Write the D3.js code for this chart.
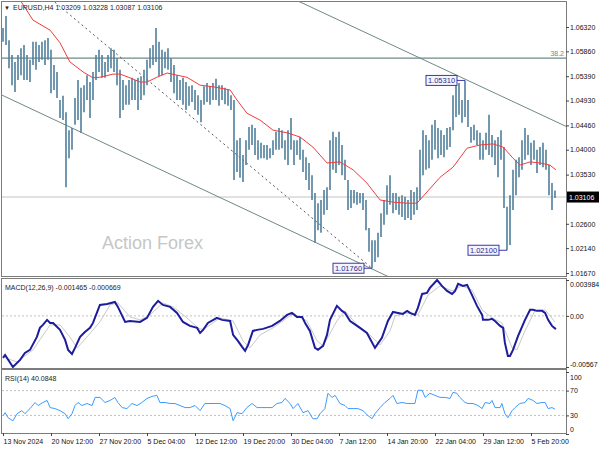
<!DOCTYPE html>
<html><head><meta charset="utf-8">
<script src="https://cdn.jsdelivr.net/npm/d3@7"></script>
<style>
html,body{margin:0;padding:0;background:#fff;}
svg{display:block;font-family:"Liberation Sans",Arial,sans-serif;}
</style></head><body>
<svg id="c" width="600" height="450"></svg>
<script>
// ---------------- DATA ----------------
const symbol = "EURUSD,H4";
const lastOHLC = [1.03209, 1.03228, 1.03087, 1.03106];
const timeLabels = ["13 Nov 2024","20 Nov 12:00","27 Nov 20:00","5 Dec 04:00","12 Dec 12:00","19 Dec 20:00","30 Dec 04:00","7 Jan 12:00","14 Jan 20:00","22 Jan 04:00","29 Jan 12:00","5 Feb 20:00"];
const timeTickBars = [0,16,32,48,64,80,96,112,128,144,160,176];
const priceTicks = [1.0632,1.0586,1.0539,1.0493,1.0446,1.0400,1.0353,1.0260,1.0214,1.0167];
const barHigh = [1.0630,1.0653,1.0607,1.0579,1.0566,1.0579,1.0592,1.0598,1.0579,1.0570,
1.0604,1.0604,1.0598,1.0604,1.0607,1.0611,1.0589,1.0560,1.0547,1.0494,
1.0502,1.0471,1.0437,1.0441,1.0498,1.0532,1.0517,1.0522,1.0541,1.0528,
1.0547,1.0579,1.0589,1.0579,1.0566,1.0579,1.0592,1.0589,1.0573,1.0551,
1.0532,1.0522,1.0532,1.0536,1.0532,1.0536,1.0539,1.0551,1.0570,1.0592,
1.0598,1.0630,1.0604,1.0589,1.0585,1.0592,1.0573,1.0560,1.0541,1.0532,
1.0536,1.0528,1.0520,1.0522,1.0513,1.0503,1.0494,1.0520,1.0526,1.0520,
1.0526,1.0534,1.0522,1.0522,1.0517,1.0513,1.0503,1.0494,1.0418,1.0422,
1.0390,1.0418,1.0443,1.0447,1.0441,1.0418,1.0413,1.0409,1.0409,1.0403,
1.0418,1.0434,1.0441,1.0437,1.0418,1.0437,1.0460,1.0418,1.0418,1.0424,
1.0400,1.0386,1.0375,1.0352,1.0318,1.0299,1.0305,1.0324,1.0329,1.0418,
1.0434,1.0424,1.0434,1.0409,1.0381,1.0343,1.0324,1.0324,1.0320,1.0318,
1.0318,1.0305,1.0252,1.0229,1.0229,1.0243,1.0280,1.0305,1.0333,1.0352,
1.0318,1.0318,1.0311,1.0314,1.0311,1.0305,1.0324,1.0320,1.0329,1.0400,
1.0437,1.0428,1.0418,1.0447,1.0456,1.0441,1.0437,1.0428,1.0441,1.0443,
1.0503,1.0522,1.0526,1.0494,1.0531,1.0494,1.0443,1.0447,1.0437,1.0432,
1.0418,1.0432,1.0466,1.0428,1.0418,1.0424,1.0437,1.0405,1.0292,1.0314,
1.0362,1.0381,1.0386,1.0418,1.0441,1.0428,1.0413,1.0418,1.0400,1.0405,
1.0413,1.0400,1.0371,1.0337,1.03228];
const barLow = [1.0604,1.0598,1.0554,1.0522,1.0509,1.0532,1.0541,1.0532,1.0532,1.0528,
1.0560,1.0551,1.0566,1.0570,1.0560,1.0570,1.0507,1.0513,1.0498,1.0460,
1.0456,1.0329,1.0384,1.0400,1.0447,1.0456,1.0432,1.0471,1.0494,1.0460,
1.0494,1.0532,1.0547,1.0536,1.0536,1.0547,1.0554,1.0547,1.0522,1.0460,
1.0475,1.0485,1.0485,1.0494,1.0494,1.0475,1.0494,1.0503,1.0522,1.0554,
1.0560,1.0566,1.0539,1.0541,1.0554,1.0551,1.0528,1.0507,1.0494,1.0494,
1.0485,1.0475,1.0483,1.0490,1.0475,1.0466,1.0452,1.0485,1.0490,1.0485,
1.0494,1.0494,1.0483,1.0494,1.0486,1.0483,1.0475,1.0343,1.0358,1.0347,
1.0339,1.0371,1.0400,1.0409,1.0390,1.0381,1.0384,1.0384,1.0381,1.0384,
1.0390,1.0400,1.0400,1.0403,1.0381,1.0371,1.0400,1.0371,1.0390,1.0381,
1.0358,1.0343,1.0324,1.0305,1.0224,1.0248,1.0243,1.0277,1.0286,1.0324,
1.0362,1.0356,1.0371,1.0352,1.0343,1.0286,1.0290,1.0299,1.0296,1.0299,
1.0286,1.0248,1.0207,1.0176,1.0188,1.0197,1.0235,1.0258,1.0277,1.0296,
1.0280,1.0286,1.0277,1.0273,1.0267,1.0271,1.0267,1.0277,1.0286,1.0305,
1.0352,1.0362,1.0365,1.0381,1.0400,1.0384,1.0390,1.0386,1.0400,1.0405,
1.0437,1.0462,1.0466,1.0451,1.0462,1.0443,1.0413,1.0418,1.0409,1.0381,
1.0381,1.0400,1.0390,1.0386,1.0371,1.0348,1.0381,1.0290,1.0210,1.0220,
1.0286,1.0314,1.0348,1.0362,1.0381,1.0390,1.0371,1.0381,1.0356,1.0371,
1.0367,1.0362,1.0314,1.0286,1.03087];
// moving average (bar, price)
const maLine = [[3.7,1.0700],[5.7,1.0683],[10,1.0645],[15.7,1.0626],[19,1.0602],[22.3,1.0566],[26.7,1.0547],[30,1.0536],[32.3,1.0537],[36.7,1.0543],[39,1.0543],[42.3,1.0536],[45.7,1.0528],[48,1.0528],[51.3,1.0537],[54.7,1.0545],[58,1.0541],[61.3,1.0537],[65.7,1.0522],[70,1.0519],[75.7,1.0513],[78,1.0494],[81.3,1.0469],[85.7,1.0456],[90,1.0437],[94.7,1.0432],[99,1.0424],[103.3,1.0405],[108,1.0375],[112.3,1.0377],[116.7,1.0362],[121.3,1.0337],[125.7,1.0305],[130,1.0301],[134.7,1.0299],[138,1.0299],[141.3,1.0320],[145.7,1.0348],[150,1.0367],[154.7,1.0403],[159,1.0409],[163.3,1.0411],[166.7,1.0405],[170,1.0384],[172.3,1.0371],[175.7,1.0377],[179,1.0375],[182.3,1.0371],[184.3,1.0362]];
const fibLevel = 1.0573, fibName = "38.2";
const upperChannel = [[95,1.0690],[190,1.0438]];
const lowerChannel = [[-1,1.0505],[130,1.0156]];
const dottedTrend = [[16,1.0685],[123,1.0176]];
const swingLabels = [[154,1.05310,"1.05310"],[168,1.02100,"1.02100"],[123,1.01760,"1.01760"]];
// MACD(12,26,9)
const macdLabelVals = ["-0.001465","-0.000669"];
const macdTicks = [0.003984,0,-0.00567], macdTickText = ["0.003984","0.00","-0.00567"];
const macdMain = [[0,-0.00466],[0.7,-0.00433],[3.3,-0.00567],[5.7,-0.00488],[7.3,-0.00411],[9,-0.00377],[11.3,-0.00233],[12.3,-0.00133],[13.3,-0.00100],[14.7,-0.00044],[15.7,-0.00078],[16.7,-0.00078],[19,-0.00155],[20.7,-0.00266],[21.7,-0.00377],[23,-0.00422],[24,-0.00355],[25.7,-0.00233],[27.3,-0.00178],[29,-0.00133],[30,-0.00078],[32.3,0.00122],[34.7,0.00133],[37.3,0.00155],[38.3,0.00100],[40.7,-0.00067],[42.3,-0.00056],[45.7,-0.00067],[48,-0.00022],[50,0.00100],[51.7,0.00167],[53.3,0.00122],[55.7,0.00100],[58,0.00033],[60,-0.00067],[62.3,-0.00111],[64.7,-0.00133],[65.7,-0.00189],[66.7,-0.00155],[68.3,-0.00078],[71.3,-0.00022],[73,-0.00044],[75.7,-0.00056],[76.7,-0.00211],[78.3,-0.00278],[79.7,-0.00344],[80.7,-0.00389],[81.7,-0.00322],[83.3,-0.00167],[84.7,-0.00155],[86.7,-0.00144],[89.7,-0.00111],[92.3,-0.00056],[94.7,0.00011],[96.3,0.00033],[98,-0.00011],[99.7,-0.00011],[100.7,-0.00078],[102.3,-0.00167],[104,-0.00355],[105,-0.00377],[106.7,-0.00333],[108,-0.00211],[109,-0.00044],[111.3,0.00111],[113,0.00056],[114,0.00033],[115.7,-0.00056],[119,-0.00133],[121.3,-0.00189],[124,-0.00355],[126.3,-0.00244],[128.3,-0.00056],[130,0.00044],[131.7,0.00033],[133.3,0.00022],[134.7,0.00056],[135.7,0.00033],[137.3,0.00011],[138.3,0.00089],[139.7,0.00244],[141.3,0.00255],[142.3,0.00311],[144.7,0.003984],[146.3,0.00333],[148,0.00278],[149.7,0.00244],[150.7,0.00278],[151.7,0.00355],[153.3,0.00333],[154.7,0.00344],[156.3,0.00233],[158,0.00111],[159.7,0.00011],[160,-0.00044],[161.7,-0.00044],[163,-0.00033],[164,-0.00056],[165.7,-0.00111],[166.7,-0.00133],[167.3,-0.00300],[168.3,-0.00444],[169,-0.00444],[170,-0.00377],[171.7,-0.00222],[174,-0.00044],[175.7,0.00067],[176.7,0.00067],[178,0.00056],[179.7,0.00056],[180.7,0.00033],[181.7,-0.00044],[183,-0.00111],[184.3,-0.001465]];
const macdSignal = [[0.7,-0.00466],[4.7,-0.00511],[10,-0.00377],[15.7,-0.00100],[19,-0.00100],[22.3,-0.00233],[24.7,-0.00355],[28,-0.00233],[32.3,-0.00067],[35.7,0.00122],[38.3,0.00144],[42.3,-0.00011],[45.7,-0.00044],[49,0.00011],[53.3,0.00144],[56.7,0.00100],[61.3,-0.00022],[65,-0.00133],[66.7,-0.00155],[72.3,-0.00022],[76.7,-0.00056],[80,-0.00278],[82.3,-0.00355],[85.7,-0.00211],[90,-0.00133],[94.7,-0.00022],[96.7,0.00022],[101.3,-0.00056],[104.7,-0.00278],[106.7,-0.00333],[111.3,-0.00056],[114,0.00056],[118,-0.00100],[122.3,-0.00211],[125.7,-0.00322],[129,-0.00167],[130.7,0],[134,0.00033],[138.3,0.00011],[141.7,0.00233],[145.7,0.00333],[149.7,0.00278],[153,0.00333],[156.3,0.00289],[159.7,0.00067],[163,-0.00022],[166.3,-0.00078],[169.7,-0.00355],[171.3,-0.00377],[174,-0.00167],[177.3,0.00056],[180.7,0.00067],[184,-0.000669]];
// RSI(14)
const rsiLast = "40.0848";
const rsiTicks = [100,70,30,0];
const rsiLevels = [70,30];
const rsiLine = [[0,29.5],[0.7,34.4],[1.7,26.2],[3.3,21.3],[4.7,32.8],[6.3,37.7],[7.3,32.8],[9,41.0],[10.7,50.8],[11.7,45.9],[13.3,50.8],[14.7,54.1],[15.7,42.6],[17.3,41.0],[19,37.7],[20.7,32.8],[21.7,24.6],[23,32.8],[24,45.9],[25,50.8],[26.3,45.9],[28,49.2],[29.7,45.9],[30.7,59.0],[32.3,59.0],[34,50.8],[35.7,54.1],[37.3,59.0],[38.3,50.8],[39.7,42.6],[41.3,41.0],[43,49.2],[44.7,45.9],[46.3,50.8],[48,57.4],[49.7,60.7],[51.3,62.3],[52.3,50.8],[54,50.8],[55.7,49.2],[57.3,49.2],[59,45.9],[60.7,42.6],[62.3,42.6],[64,45.9],[65.7,37.7],[67.3,49.2],[69,49.2],[70.7,49.2],[72.3,49.2],[74,45.9],[75.7,41.0],[76.7,21.3],[78,34.4],[79.7,32.8],[81.3,42.6],[83,49.2],[84.7,42.6],[86.3,42.6],[88,42.6],[89.7,42.6],[91.3,49.2],[93,50.8],[94,57.4],[95.7,49.2],[96.7,41.0],[98.3,49.2],[100,34.4],[101.7,37.7],[103.3,24.6],[104.7,24.6],[105.7,32.8],[107.3,41.0],[108.3,65.6],[109.7,59.0],[110.7,62.3],[112.3,49.2],[114,45.9],[115,41.0],[116.7,41.0],[118.3,41.0],[120,37.7],[121.7,29.5],[123,24.6],[124,32.8],[125.7,42.6],[127.3,50.8],[129,57.4],[130,62.3],[131.3,49.2],[133,50.8],[134.7,49.2],[136.3,49.2],[137.3,49.2],[138.3,70.5],[139.7,70.5],[140.7,59.0],[142.3,65.6],[144,62.3],[145.7,59.0],[147.3,59.0],[149,57.4],[150,67.2],[151.3,65.6],[152.3,59.0],[154,50.8],[155,49.2],[156.7,49.2],[158.3,45.9],[159.7,41.0],[160.7,50.8],[162.3,49.2],[163,54.1],[164,42.6],[165.7,42.6],[166.3,49.2],[167.3,32.8],[168.3,26.2],[169.7,37.7],[170.7,42.6],[172.3,49.2],[174,50.8],[175,57.4],[176.7,54.1],[178,49.2],[179.7,50.8],[180.7,50.8],[181.7,41.0],[183,42.6],[184,40.08]];
const watermark = "Action Forex";

// ---------------- LAYOUT ----------------
const L = 2, R = 566;
const P = {main:[2,276], macd:[279,368], rsi:[370,433]};
const x = d3.scaleLinear().domain([0,184]).range([3,555]);
const yP = d3.scaleLinear().domain([1.0167,1.0632]).range([273,27]);
const yM = d3.scaleLinear().domain([-0.00567,0.003984]).range([367,280]);
const yR = d3.scaleLinear().domain([0,100]).range([434,372]);
const FS = "7px";
const frameCol = "#7c7c7c";

const svg = d3.select("#c");
svg.append("rect").attr("width",600).attr("height",450).attr("fill","#fff");
const defs = svg.append("defs");
function clip(id, p){ defs.append("clipPath").attr("id",id).append("rect").attr("x",L).attr("y",p[0]).attr("width",R-L).attr("height",p[1]-p[0]); }
clip("cm",P.main); clip("cd",P.macd); clip("cr",P.rsi);

// ---------- main panel ----------
const gm = svg.append("g").attr("clip-path","url(#cm)");
const lineP = d3.line().x(d=>x(d[0])).y(d=>yP(d[1]));
// current price line
gm.append("line").attr("x1",L).attr("x2",R).attr("y1",yP(lastOHLC[3])).attr("y2",yP(lastOHLC[3])).attr("stroke","#c4c4c4").attr("stroke-width",1);
// fib level
gm.append("line").attr("x1",L).attr("x2",R).attr("y1",yP(fibLevel)).attr("y2",yP(fibLevel)).attr("stroke","#6f8985").attr("stroke-width",1.2);
gm.append("text").attr("x",R-2).attr("y",yP(fibLevel)-2).attr("text-anchor","end").attr("font-size",FS).attr("fill","#6f8985").text(fibName);
// channels
gm.append("path").attr("d",lineP(upperChannel)).attr("stroke","#6f8985").attr("fill","none").attr("stroke-width",1);
gm.append("path").attr("d",lineP(lowerChannel)).attr("stroke","#6f8985").attr("fill","none").attr("stroke-width",1);
gm.append("path").attr("d",lineP(dottedTrend)).attr("stroke","#555").attr("fill","none").attr("stroke-width",1).attr("stroke-dasharray","2,3");
// watermark
gm.append("text").attr("x",102).attr("y",249).attr("font-size","18px").attr("fill","#c6c6c6").text(watermark);
// bars
gm.append("g").selectAll("line").data(barHigh).join("line")
  .attr("x1",(d,i)=>x(i)).attr("x2",(d,i)=>x(i))
  .attr("y1",d=>yP(d)).attr("y2",(d,i)=>yP(barLow[i]))
  .attr("stroke","#4f7f9c").attr("stroke-width",1.6);
// MA
gm.append("path").attr("d",lineP(maLine)).attr("stroke","#f23c3c").attr("fill","none").attr("stroke-width",1);
// swing labels
swingLabels.forEach(([b,p,t])=>{
  const bx = x(b), by = yP(p), w = 31, h = 10, rx = bx - 8;
  gm.append("line").attr("x1",rx).attr("x2",bx).attr("y1",by).attr("y2",by).attr("stroke","#3a3aa8").attr("stroke-width",1);
  gm.append("rect").attr("x",rx-w).attr("y",by-h/2).attr("width",w).attr("height",h).attr("fill","#f4f4ff").attr("stroke","#3a3aa8").attr("stroke-width",1);
  gm.append("text").attr("x",rx-w/2).attr("y",by+2.6).attr("text-anchor","middle").attr("font-size","7.5px").attr("fill","#2a2a8c").text(t);
});
// title
svg.append("text").attr("x",4).attr("y",10).attr("font-size","6px").attr("fill","#222").text("▼");
svg.append("text").attr("x",13).attr("y",10).attr("font-size",FS).attr("fill","#222")
  .text(symbol + " " + lastOHLC.map(v=>v.toFixed(5)).join(" "));

// ---------- MACD panel ----------
const gd = svg.append("g").attr("clip-path","url(#cd)");
const lineM = d3.line().x(d=>x(d[0])).y(d=>yM(d[1]));
gd.append("line").attr("x1",L).attr("x2",R).attr("y1",yM(0)).attr("y2",yM(0)).attr("stroke","#c0c0c0").attr("stroke-dasharray","2,2");
gd.append("path").attr("d",lineM(macdSignal)).attr("stroke","#c9c9c9").attr("fill","none").attr("stroke-width",1);
gd.append("path").attr("d",lineM(macdMain)).attr("stroke","#1c1c9c").attr("fill","none").attr("stroke-width",2);
svg.append("text").attr("x",5).attr("y",290).attr("font-size",FS).attr("fill","#222")
  .text("MACD(12,26,9) " + macdLabelVals.join(" "));

// ---------- RSI panel ----------
const gr = svg.append("g").attr("clip-path","url(#cr)");
const lineR = d3.line().x(d=>x(d[0])).y(d=>yR(d[1]));
rsiLevels.forEach(v=>gr.append("line").attr("x1",L).attr("x2",R).attr("y1",yR(v)).attr("y2",yR(v)).attr("stroke","#c0c0c0").attr("stroke-dasharray","2,2"));
gr.append("path").attr("d",lineR(rsiLine)).attr("stroke","#3d9bff").attr("fill","none").attr("stroke-width",1);
svg.append("text").attr("x",5).attr("y",381).attr("font-size",FS).attr("fill","#222").text("RSI(14) " + rsiLast);

// ---------- frames ----------
Object.values(P).forEach(p=>{
  svg.append("rect").attr("x",L-0.5).attr("y",p[0]-0.5).attr("width",R-L+1).attr("height",p[1]-p[0]+1)
    .attr("fill","none").attr("stroke",frameCol).attr("stroke-width",1);
});

// ---------- axes ----------
function styleAxis(g){ g.select(".domain").remove(); g.selectAll("text").attr("font-size",FS).attr("fill","#111").attr("font-family","Liberation Sans, Arial, sans-serif"); g.selectAll("line").attr("stroke","#444"); }
svg.append("g").attr("transform",`translate(${R},0)`)
  .call(d3.axisRight(yP).tickValues(priceTicks).tickFormat(d3.format(".5f")).tickSize(3).tickPadding(1)).call(styleAxis);
// current price tag
const cy = yP(lastOHLC[3]);
svg.append("rect").attr("x",R+1).attr("y",cy-5.5).attr("width",32).attr("height",11).attr("fill","#000");
svg.append("text").attr("x",R+3).attr("y",cy+2.5).attr("font-size",FS).attr("fill","#fff").text(lastOHLC[3].toFixed(5));

const axM = svg.append("g").attr("transform",`translate(${R},0)`)
  .call(d3.axisRight(yM).tickValues(macdTicks).tickFormat((d,i)=>macdTickText[i]).tickSize(3).tickPadding(1)).call(styleAxis);
axM.selectAll(".tick text").attr("dy",(d,i)=> i===0 ? "0.9em" : (i===2 ? "-0.1em" : "0.32em"));

const axR = svg.append("g").attr("transform",`translate(${R},0)`)
  .call(d3.axisRight(yR).tickValues(rsiTicks).tickSize(3).tickPadding(1)).call(styleAxis);
axR.selectAll(".tick text").attr("dy",(d,i)=> d===100 ? "1.1em" : (d===0 ? "-0.3em" : "0.32em"));

const axX = svg.append("g").attr("transform",`translate(0,${P.rsi[1]})`)
  .call(d3.axisBottom(x).tickValues(timeTickBars).tickFormat((d,i)=>timeLabels[i]).tickSize(3).tickPadding(3)).call(styleAxis);
axX.selectAll(".tick text").attr("text-anchor","start").attr("dx","0");
</script>
</body></html>
